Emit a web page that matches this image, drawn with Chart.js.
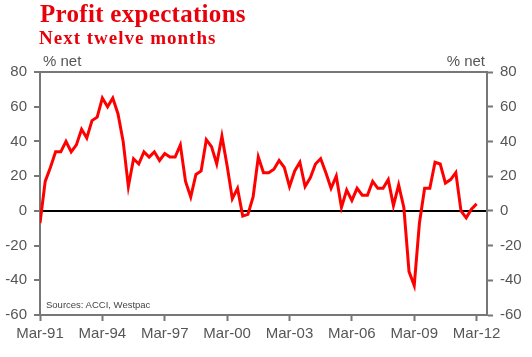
<!DOCTYPE html>
<html><head><meta charset="utf-8">
<script src="https://cdn.jsdelivr.net/npm/chart.js@4.4.1/dist/chart.umd.min.js"></script>
<style>
html,body{margin:0;padding:0;background:#fff;}
#wrap{position:relative;width:532px;height:357px;overflow:hidden;}
canvas{position:absolute;left:0;top:0;}
.t{position:absolute;white-space:nowrap;}
#title{left:40px;top:1px;font:bold 25px/25px "Liberation Serif",serif;color:#e8000b;letter-spacing:0.3px;}
#sub{left:39px;top:28px;font:bold 19px/19px "Liberation Serif",serif;color:#e8000b;letter-spacing:1px;}
.unit{top:53px;font:15px/15px "Liberation Sans",Arial,sans-serif;color:#555;}
#unitL{left:43px;}
#unitR{right:47px;}
#src{left:46px;top:300px;font:9.5px/9.5px "Liberation Sans",Arial,sans-serif;color:#444;}
</style></head><body>
<div id="wrap">
<canvas id="c" width="532" height="357"></canvas>
<div class="t" id="title">Profit expectations</div>
<div class="t" id="sub">Next twelve months</div>
<div class="t unit" id="unitL">% net</div>
<div class="t unit" id="unitR">% net</div>
<div class="t" id="src">Sources: ACCI, Westpac</div>
</div>
<script>
// Quarterly categories, Mar-91 .. Sep-12 (axis extends two quarters past the last observation)
const quarters = [];
for (let y = 1991; y <= 2012; y++) {
  for (const m of ['Mar','Jun','Sep','Dec']) {
    quarters.push(m + '-' + String(y % 100).padStart(2, '0'));
    if (y === 2012 && m === 'Sep') break;
  }
}
// Profit expectations, % net, Mar-91 .. Mar-12
const profitExpectations = [
  -7, 17, 25, 34, 34, 40, 34, 38, 47, 42, 52, 54,
  65, 60, 65, 56, 40, 14, 30, 27, 34, 31, 34, 29,
  33, 31, 31, 38, 17, 8, 21, 23, 41, 37, 27, 43,
  26, 7, 13, -3, -2, 8, 31, 22, 22, 24, 29, 25,
  14, 23, 28, 14, 19, 27, 30, 22, 13, 20, 2, 12,
  6, 13, 9, 9, 17, 13, 13, 18, 3, 15, 2, -35,
  -43, -7, 13, 13, 28, 27, 16, 18, 22, 0, -4, 1,
  4
];
const xTickLabels = ['Mar-91','Mar-94','Mar-97','Mar-00','Mar-03','Mar-06','Mar-09','Mar-12'];
const yTicks = { min: -60, max: 80, step: 20 };

const tickFont = { family: 'Liberation Sans', size: 15 };
const tickColor = '#565656';
const axisColor = '#777777';

new Chart(document.getElementById('c'), {
  type: 'line',
  data: {
    datasets: [{
      data: profitExpectations.map((v, i) => ({ x: i, y: v })),
      borderColor: '#ff0000',
      borderWidth: 3,
      pointRadius: 0,
      tension: 0,
      yAxisID: 'y'
    }]
  },
  options: {
    responsive: false,
    devicePixelRatio: 1,
    animation: false,
    layout: { padding: { top: 72, left: 0, right: 0, bottom: 0 } },
    plugins: { legend: { display: false }, tooltip: { enabled: false } },
    scales: {
      x: {
        type: 'linear',
        min: 0,
        max: quarters.length - 1,
        afterBuildTicks: s => { s.ticks = xTickLabels.map(l => ({ value: quarters.indexOf(l) })); },
        afterFit: s => { s.height = 42; },
        ticks: { callback: v => quarters[v], color: tickColor, font: tickFont, padding: 4, maxRotation: 0, autoSkip: false },
        grid: { drawOnChartArea: false, drawTicks: true, tickLength: 6, tickColor: axisColor, tickWidth: 2 },
        border: { color: axisColor, width: 2 }
      },
      y: {
        position: 'left',
        min: yTicks.min, max: yTicks.max,
        afterFit: s => { s.width = 40; },
        ticks: { stepSize: yTicks.step, color: tickColor, font: tickFont, padding: 7 },
        grid: {
          color: ctx => ctx.tick.value === 0 ? '#000000' : (ctx.tick.value === yTicks.max ? axisColor : 'rgba(0,0,0,0)'),
          lineWidth: 2, tickLength: 6, tickColor: axisColor, tickWidth: 2
        },
        border: { color: axisColor, width: 2 }
      },
      y2: {
        position: 'right',
        min: yTicks.min, max: yTicks.max,
        afterFit: s => { s.width = 45; },
        ticks: { stepSize: yTicks.step, color: tickColor, font: tickFont, padding: 7 },
        grid: { drawOnChartArea: false, tickLength: 6, tickColor: axisColor, tickWidth: 2 },
        border: { color: axisColor, width: 2 }
      }
    }
  }
});
</script>
</body></html>
